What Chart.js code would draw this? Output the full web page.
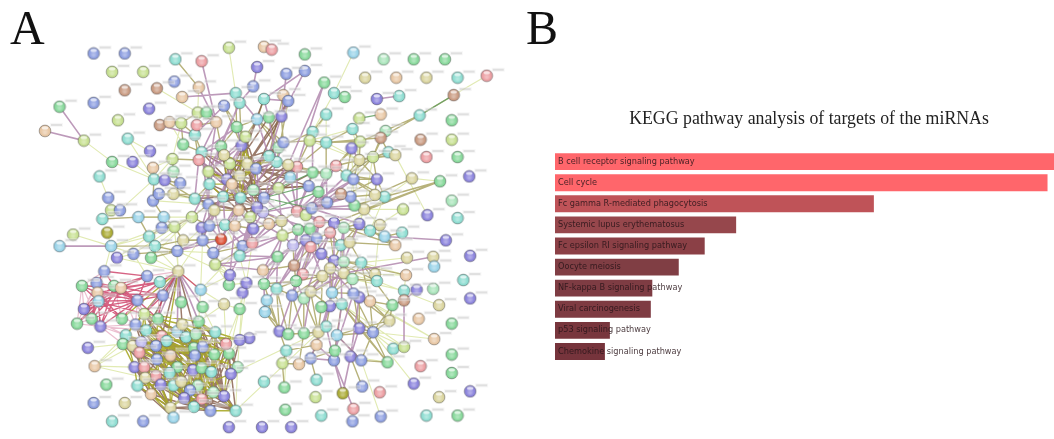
<!DOCTYPE html>
<html>
<head>
<meta charset="utf-8">
<script src="https://cdn.jsdelivr.net/npm/chart.js@4"></script>
<style>
  html, body { margin: 0; padding: 0; background: #fff; overflow: hidden; width: 1054px; height: 439px; }
  #page { position: relative; width: 1054px; height: 439px; overflow: hidden; }
  .panel { position: absolute; font-family: "Liberation Serif", serif; font-size: 48px; line-height: 48px; color: #111; top: 4px; }
  #netBox { position: absolute; left: 0; top: 0; width: 520px; height: 439px; filter: blur(0.5px); }
  #barBox { position: absolute; left: 520px; top: 0; width: 543px; height: 439px; filter: blur(0.4px); }
</style>
</head>
<body>
<div id="page">
  <div id="netBox"><canvas id="network" width="520" height="439"></canvas></div>
  <div id="barBox"><canvas id="kegg" width="543" height="439"></canvas></div>
  <div class="panel" style="left:10px">A</div>
  <div class="panel" style="left:526px">B</div>
</div>
<script>
// Panel B: KEGG pathways, bar length relative to the longest bar
const pathways = ['B cell receptor signaling pathway', 'Cell cycle', 'Fc gamma R-mediated phagocytosis',
  'Systemic lupus erythematosus', 'Fc epsilon RI signaling pathway', 'Oocyte meiosis',
  'NF-kappa B signaling pathway', 'Viral carcinogenesis', 'p53 signaling pathway', 'Chemokine signaling pathway'];
const scores = [100, 98.7, 63.9, 36.3, 30, 24.8, 19.5, 19.2, 11, 10];
const barColors = ['#ff666b', '#ff666b', '#bf5358', '#96474c', '#8b4046', '#803e44', '#7e3c43', '#7e3b42', '#78363d', '#76343c'];
const keggTitle = 'KEGG pathway analysis of targets of the miRNAs';

// Panel A: protein network nodes, ten per row
const nodeX = [
  89,121,108,140,173,200,228,172,154,121,
  89,54,146,39,79,114,124,147,129,108,
  95,150,151,104,107,116,98,135,150,156,
  162,178,171,170,181,157,167,179,193,195,
  196,205,180,197,235,239,223,215,236,253,
  257,264,272,306,356,387,418,450,368,400,
  431,463,493,287,306,326,336,347,380,403,
  459,284,289,264,282,269,328,362,384,424,
  457,257,314,311,328,355,363,354,389,384,
  392,399,362,376,425,457,431,463,475,445,
  416,380,457,407,432,463,388,378,367,357,
  353,343,329,320,310,314,328,338,349,356,
  298,289,277,269,279,284,291,279,264,263,
  298,307,313,220,241,245,200,197,229,207,
  208,226,231,239,247,256,253,222,240,193,
  207,213,238,257,250,171,161,190,282,223,
  172,181,200,208,224,234,253,269,201,220,
  242,252,212,239,214,68,103,54,107,146,
  159,152,113,130,148,175,283,299,311,321,
  336,346,362,383,373,388,406,399,451,476,
  411,438,439,294,307,318,332,343,352,312,
  323,278,336,346,364,332,378,380,410,263,
  295,304,297,324,346,355,469,421,408,438,
  476,444,408,396,373,362,356,344,332,334,
  264,277,293,305,312,267,265,323,423,457,
  393,439,280,289,305,320,328,339,362,376,
  318,287,397,408,457,283,300,312,336,353,
  364,391,337,425,457,264,285,318,317,345,
  365,383,418,444,476,286,323,356,355,384,
  431,463,262,292,228,249,100,144,157,176,
  77,92,93,110,117,94,134,160,79,87,
  72,96,118,179,199,201,223,228,242,246,
  229,239,141,155,132,143,122,119,129,138,
  159,175,180,197,184,194,214,164,153,136,
  168,154,192,201,193,213,228,225,239,83,
  90,131,141,175,191,200,210,237,230,167,
  153,142,102,134,158,171,179,196,188,212,
  148,182,200,223,168,192,209,235,89,121,
  108,140,171
];
const nodeY = [
  48,48,67,67,54,56,42,77,84,86,
  99,103,105,128,138,117,136,149,160,160,
  175,166,178,197,210,210,219,217,200,193,
  179,182,170,157,142,122,119,120,132,122,
  109,109,93,83,89,99,102,119,124,82,
  62,41,44,49,47,54,54,54,73,73,
  73,73,71,69,66,78,89,93,95,92,
  91,91,97,95,113,114,111,115,111,112,
  117,116,129,138,140,126,139,146,128,135,
  150,153,158,155,137,137,155,155,175,180,
  177,178,200,209,215,218,196,194,209,205,
  196,193,202,191,185,171,172,164,174,178,
  165,163,160,154,145,140,176,187,197,212,
  211,215,208,144,143,134,150,158,162,170,
  183,178,183,174,162,167,189,196,197,198,
  204,210,210,207,217,193,217,217,221,153,
  227,241,228,226,225,226,229,224,241,240,
  247,244,254,257,266,235,233,247,247,237,
  228,247,259,255,259,252,236,230,229,222,
  223,228,224,225,231,237,233,246,241,257,
  259,258,268,246,241,239,233,246,243,248,
  255,258,262,263,264,270,276,283,277,272,
  267,276,283,278,275,281,282,292,293,291,
  301,308,303,308,304,300,296,307,309,295,
  286,291,298,301,294,303,315,310,322,327,
  324,343,335,338,337,336,330,339,332,336,
  349,355,353,351,359,368,369,363,365,361,
  365,367,355,371,378,387,393,385,403,399,
  392,398,389,403,397,416,422,415,428,423,
  422,422,434,434,434,342,273,278,284,273,
  288,285,295,288,290,304,303,298,312,322,
  327,330,322,305,292,310,307,287,295,285,
  277,312,317,322,328,334,339,348,350,346,
  340,335,328,325,341,338,336,345,350,357,
  360,364,352,351,360,359,358,348,344,352,
  371,372,372,372,375,373,377,372,379,378,
  381,383,390,391,390,391,387,391,396,398,
  400,404,405,402,414,413,417,417,409,409,
  428,428,424
];
// colour family of each node, one letter per node, ten per row
const nodeTones = [
  'bbyytrybww', 'bgpnyytppg', 'tntbybtcbb', 'pbmygwnytr', 'ygnnttbngb',
  'pnrgcmggon', 'otrbbgtgpt', 'wnbtpgtynt', 'gctyttypmw', 'tooywyrgpg',
  'opmypttoog', 'bwbgbgmrtb', 'rottmbcybv', 'rybgpytryy', 'tpnoobmttt',
  'bonpyocyoo', 'yopbtnpnbe', 'brbtyydcct', 'btpbgbyggr', 'pmpotctnpp',
  'oocvpbrtor', 'pgpmtootnn', 'wrgoomtptm', 'powgnpbtpc', 'gtbmoccgng',
  'onpggotcpb', 'nttygynbbp', 'bggrgtgtyd', 'brpopgtrbb', 'tgppppbbto',
  'gbngncbbpg', 'gpggcgogpp', 'pgygbttgov', 'rcogtmttbr', 'nbgbbggrpp',
  'nprgpgtmpt', 'rogtptombm', 'nprpotbtbo', 'tbc'
].join('').split('');

// links between nodes, pairs of node numbers, one list per STRING evidence colour
const paleLinks = [6,44, 8,40, 14,19, 19,22, 16,22, 33,22, 43,40, 20,23, 25,22, 36,34, 37,33, 33,21, 17,16, 18,22,
  54,66, 66,82, 76,83, 76,84, 85,83, 91,104, 62,70, 103,108, 100,99, 202,201, 193,216, 216,218, 217,231, 218,228,
  224,216, 225,228, 234,251, 259,251, 282,259, 270,289, 269,271, 262,259, 259,263, 276,261, 176,178, 175,178,
  178,183, 178,179, 179,181, 296,178, 350,351, 350,326, 350,327, 350,361, 350,328, 349,327, 183,297, 184,299,
  181,299, 185,299, 299,160, 182,299, 297,183, 179,182, 183,182, 83,92, 84,92, 85,92, 86,110, 87,109, 93,108,
  92,109, 103,193, 108,193, 106,194, 108,192, 157,178, 27,157, 28,150, 29,149, 179,157, 184,157, 183,160, 181,157,
  185,172, 185,320, 320,317, 317,319, 319,318, 318,321, 321,316, 316,314, 314,320, 174,320, 174,317, 172,320,
  173,319, 171,319, 170,314, 168,314, 162,185, 163,299, 164,173, 316,333, 314,333, 315,336, 321,347, 348,346,
  295,348, 295,346, 357,346, 358,357, 373,357, 377,357, 321,346, 318,357, 319,348, 316,347, 314,299,
  200,214, 263,237, 251,235, 377,255, 358,255, 218,214, 103,194, 100,191, 217,224];
const oliveLinks = [4,43, 34,37, 37,38, 36,37, 35,36, 33,32, 32,31, 21,22, 22,30, 30,31, 31,155, 155,147, 30,149,
  33,137, 34,136, 37,40, 40,41, 40,47, 41,47, 38,136, 38,137, 39,47, 39,38, 48,133, 48,135, 45,134, 46,135, 46,134,
  47,133, 44,48, 48,81, 135,81, 135,134, 81,124, 81,125, 75,124, 74,125, 71,123, 72,122, 73,81, 122,123, 123,124,
  121,122, 120,121, 126,121, 127,126, 146,145, 146,144, 145,144, 144,143, 143,138, 138,136, 136,137, 139,137,
  140,139, 142,141, 141,139, 147,141, 148,142, 147,148, 148,146, 146,153, 153,152, 152,151, 151,150, 150,149,
  149,140, 149,155, 150,157, 151,162, 152,164, 153,165, 128,153, 129,153, 128,146, 127,128, 127,146, 129,158,
  158,167, 158,186, 187,186, 187,188, 188,189, 189,190, 190,191, 191,192, 130,131, 131,132, 130,158, 82,83, 83,84,
  83,125, 83,120, 84,120, 84,116, 82,124, 76,82, 85,86, 86,92, 92,93, 93,89, 88,89, 89,84, 86,84, 85,84, 79,89,
  70,79, 79,86, 92,117, 93,118, 115,116, 116,117, 117,118, 118,119, 114,115, 114,113, 113,112, 112,111, 111,110,
  110,109, 109,108, 107,106, 110,107, 109,106, 132,112, 132,113, 119,106, 118,107, 115,120, 116,120, 114,127,
  99,108, 100,107, 99,106, 157,163, 156,160, 157,160, 160,161, 161,168, 161,169, 168,172, 172,170, 170,173, 173,171,
  171,174, 164,165, 163,164, 162,163, 165,166, 166,167, 179,180, 180,160, 181,161, 181,185, 183,185, 184,185,
  185,161, 178,181, 191,194, 194,195, 195,197, 195,196, 197,191, 197,192, 192,207, 192,208, 207,208, 206,207,
  205,206, 204,205, 203,204, 209,210, 210,212, 212,213, 213,214, 214,216, 216,217, 214,224, 213,224, 215,224,
  215,223, 223,221, 221,220, 220,209, 220,219, 222,240, 222,223, 224,225, 225,217, 225,214, 223,225, 243,244,
  242,243, 241,242, 240,241, 245,246, 239,236, 236,235, 235,234, 234,233, 233,232, 233,250, 250,234, 250,258,
  259,258, 259,271, 258,271, 259,250, 259,270, 271,270, 237,238, 237,257, 238,256, 256,255, 255,254, 254,253,
  253,252, 252,261, 261,265, 265,266, 266,267, 267,260, 260,255, 261,260, 272,257, 272,267, 272,268, 257,270,
  257,259, 258,257, 277,267, 280,269, 276,265, 252,246, 261,252, 266,254, 253,246, 27,26, 27,156, 28,29, 29,155,
  28,156, 156,180, 180,179, 27,179, 22,28,
  203,220, 209,221, 204,209, 205,209, 205,210, 206,210, 206,212, 207,212, 208,214, 207,213, 220,222, 221,222, 222,241,
  223,242, 223,243, 224,243, 224,239, 225,239, 215,239, 215,244, 239,238, 239,237, 244,238, 244,255, 243,255, 243,254,
  242,254, 242,253, 241,253, 241,252, 240,252, 245,252, 246,252, 246,253, 247,238, 247,255, 247,260, 247,223, 235,258,
  236,258, 236,259, 237,258, 237,259, 234,259, 233,259, 87,117, 87,118, 86,117, 92,118, 92,119, 93,119, 88,93, 91,93,
  91,92, 90,93, 90,89, 90,91, 101,93, 101,92, 101,118, 101,119, 101,106, 101,107,
  101,131, 99,190, 197,204, 218,213, 217,212, 234,214, 233,214, 250,236, 271,237];
const mauveLinks = [11,14, 13,14, 5,47, 42,44, 43,47, 35,38, 46,38, 45,133, 48,134, 47,136, 47,139, 44,81, 50,49,
  49,45, 63,74, 64,73, 64,74, 65,121, 71,72, 73,72, 74,123, 75,122, 73,75, 81,123, 81,75, 133,136, 134,138, 135,141,
  133,139, 136,140, 137,141, 138,147, 139,148, 140,150, 141,151, 142,152, 143,153, 144,128, 145,129, 122,145,
  123,144, 124,146, 125,128, 120,128, 121,154, 126,153, 127,158, 68,69, 87,92, 82,115, 65,120, 116,112, 117,113,
  118,132, 119,130, 111,131, 110,129, 147,164, 148,165, 150,162, 151,163, 152,166, 153,167, 154,186, 128,187,
  129,188, 130,189, 131,190, 132,192, 162,168, 163,169, 164,170, 165,171, 166,172, 167,173, 169,174, 169,172,
  169,185, 168,185, 166,320, 165,317, 177,178, 198,195, 201,224, 203,219, 204,220, 205,221, 206,222, 209,223,
  210,224, 212,239, 215,238, 207,237, 213,236, 219,240, 220,241, 221,242, 222,243, 223,244, 224,244, 240,246,
  241,245, 242,252, 243,253, 244,254, 239,260, 238,260, 238,255, 238,267, 237,268, 236,272, 235,269, 263,232,
  232,227, 268,279, 268,287, 269,279, 267,268, 260,268, 256,268, 257,270, 258,269, 299,313, 299,315, 299,333,
  299,323, 299,331, 299,322,
  48,136, 45,139, 133,140, 134,141, 134,139, 135,139, 136,150, 137,149, 140,157, 139,150, 147,162, 147,163, 148,164,
  148,169, 150,163, 151,168, 151,169, 152,169, 152,165, 153,170, 154,171, 154,173, 129,170, 158,171, 167,171, 186,173,
  186,171, 119,131, 118,131, 117,131, 116,132, 115,130, 114,130, 113,130, 112,130, 111,132, 110,132, 109,132, 108,132,
  127,130, 126,130, 120,130, 121,130, 203,240, 204,241, 204,242, 209,242, 210,243, 212,244, 212,243, 213,239, 215,236,
  186,203, 186,219, 187,203, 187,220, 188,220, 188,204, 189,209, 189,205, 190,210, 190,212, 191,207, 191,213, 192,213,
  128,173, 203,211, 211,219, 211,240, 211,241, 211,173, 211,174, 211,204, 211,186, 174,219];
const crimsonLinks = [296,301, 296,303, 296,297, 297,303, 297,304, 297,306, 298,304, 298,302, 301,304, 301,306,
  302,306, 302,307, 303,305, 303,306, 304,305, 305,306, 305,298, 300,302, 300,304, 300,305, 308,305, 308,306,
  309,305, 309,306, 310,305, 311,306, 311,305, 308,303, 306,307, 307,303, 312,306, 312,305,
  299,298, 299,307, 299,314, 303,297, 304,306, 302,305, 301,305, 309,304, 310,304, 311,303, 311,304, 308,304, 308,302,
  309,302, 305,312, 305,322, 306,323, 306,312, 307,323, 307,322, 302,312, 298,306];
const pinkLinks = [296,300, 300,308, 308,310, 310,311, 311,326, 311,327, 309,326, 301,309, 300,310, 303,312, 304,322,
  306,322, 297,299, 298,299, 307,299, 306,299, 296,308, 296,302, 301,308, 301,311, 300,311, 303,322, 304,324, 305,324,
  311,324, 311,325, 308,309, 309,310, 309,311, 305,311, 307,313, 298,323, 306,324];
const brownLinks = [322,330, 322,331, 323,331, 323,334, 324,329, 324,337, 325,337, 325,341, 326,338, 327,338, 328,339,
  328,341, 329,337, 329,340, 330,340, 330,342, 331,342, 331,344, 332,344, 333,344, 333,345, 334,345, 335,346, 336,346,
  336,357, 337,353, 338,353, 339,352, 339,359, 340,354, 341,359, 341,361, 342,355, 343,356, 344,356, 345,358, 346,358,
  347,357, 348,358, 351,361, 352,363, 353,364, 354,365, 355,367, 356,369, 358,373, 359,370, 360,370, 361,374, 363,374,
  364,374, 365,375, 366,376, 367,376, 368,377, 369,377, 372,377, 373,377, 374,376, 371,377, 299,325, 299,330, 299,332,
  299,335,
  322,345, 322,353, 323,342, 323,353, 324,341, 324,353, 325,345, 325,356, 326,340, 326,353, 327,342, 327,360, 328,344,
  328,361, 329,342, 329,355, 330,344, 330,356, 330,369, 331,345, 331,354, 331,367, 332,342, 332,356, 332,369, 333,346,
  333,354, 333,373, 334,355, 334,368, 335,356, 335,372, 336,354, 336,373, 336,369, 337,354, 337,367, 338,359, 338,368,
  339,364, 339,365, 340,367, 340,371, 341,368, 341,371, 342,372, 342,369, 343,373, 343,369, 344,372, 344,376, 345,376,
  345,373, 346,377, 346,369, 347,369, 347,358, 351,370, 351,374, 352,374, 352,365, 353,375, 353,376, 354,376, 354,372,
  355,376, 355,377, 356,377, 359,375, 359,376, 360,375, 361,375, 363,382, 364,376, 365,376, 366,372, 367,377, 368,376,
  369,376, 370,375, 371,376, 372,375, 373,376, 374,375,
  72,145, 72,144, 74,143, 75,141, 73,142, 81,142, 81,141, 123,141, 123,142, 122,143, 122,148, 121,148, 124,138, 124,143,
  125,143, 125,145, 135,145, 135,146, 134,146, 134,143, 133,141, 133,142, 133,143, 136,142, 136,143, 137,142, 139,148,
  139,146, 140,148, 138,148, 138,146, 141,146, 142,146, 143,146, 143,147, 144,148, 144,147, 145,148, 145,152, 128,148,
  128,143, 128,142, 127,143, 127,145, 126,145, 121,146, 121,128, 120,146, 114,146, 114,145, 115,128, 115,145, 147,153,
  147,152, 148,153, 148,152, 150,152, 150,148, 151,147, 152,153, 146,129, 146,154, 142,153, 142,154, 141,154, 140,152,
  141,152, 149,147, 149,152];
const yellowLinks = [322,339, 323,338, 324,340, 325,343, 326,351, 327,351, 328,352, 329,353, 330,354, 331,355, 332,356,
  333,343, 333,347, 334,347, 335,348, 336,348, 337,357, 338,354, 339,360, 340,356, 341,365, 342,366, 343,367, 344,369,
  345,372, 346,373, 347,346, 351,363, 352,364, 353,365, 354,368, 355,369, 356,372, 358,368, 359,371, 360,374, 361,370,
  363,370, 364,375, 365,372, 366,375, 367,371, 368,374, 369,373, 370,374, 371,374, 372,376, 373,372, 322,325, 323,325,
  324,326, 325,329, 329,328, 330,337, 331,334, 332,335, 334,342, 335,343, 337,338, 338,341, 341,360, 340,353, 353,354,
  354,355, 355,356, 359,364, 364,365, 365,366, 366,367, 367,368, 351,352, 352,361,
  322,333, 322,344, 323,336, 323,343, 324,334, 324,344, 325,335, 325,340, 326,341, 326,344, 327,340, 327,354, 328,340,
  328,353, 329,344, 329,345, 330,345, 330,343, 331,346, 331,343, 332,336, 332,345, 333,336, 333,342, 334,346, 334,356,
  335,345, 335,355, 336,345, 336,355, 337,344, 337,355, 338,344, 338,365, 339,341, 339,353, 340,364, 340,368, 341,364,
  341,366, 342,354, 342,367, 343,355, 343,372, 344,367, 344,371, 345,369, 345,356, 346,356, 346,367, 347,356, 347,345,
  351,359, 351,364, 352,359, 352,370, 353,366, 353,368, 354,369, 354,371, 355,372, 355,371, 356,373, 356,367, 359,366,
  359,374, 360,365, 360,382, 361,364, 361,374, 363,364, 363,374, 364,366, 364,382, 365,374, 365,371, 366,368, 366,371,
  367,372, 367,369, 368,372, 368,375, 369,372, 369,377, 370,382, 371,375, 371,372, 372,373, 373,377, 374,382, 375,376,
  376,377, 299,337, 299,326, 299,324, 299,312,
  159,141, 159,143, 159,144, 138,145, 143,145, 141,145, 142,145, 144,148, 145,146, 143,148, 141,148, 142,147, 146,147,
  141,147, 139,141, 140,147, 140,142, 139,142, 133,138, 134,144, 134,145, 135,144, 135,143, 123,145, 122,144];
const greenLinks = [128,132, 115,127, 114,128, 113,129, 146,128, 77,78, 70,79];

const tonePalette = { b:'#8a9ce0', p:'#8880dc', t:'#8adcd0', c:'#96d2e8', g:'#84d898', y:'#c6e08e', o:'#dad49c',
  n:'#e8c6a2', r:'#ec9ca0', w:'#c8987e', v:'#bab4ec', m:'#a6e4b8', e:'#dc4c30', d:'#a9a930' };

// little glass ball like the STRING nodes
function ball(color) {
  const c = document.createElement('canvas');
  c.width = 14; c.height = 14;
  const g = c.getContext('2d');
  g.beginPath(); g.arc(7, 7, 5.9, 0, Math.PI * 2);
  g.fillStyle = color; g.fill();
  g.lineWidth = 0.8; g.strokeStyle = 'rgba(80,80,80,0.5)'; g.stroke();
  const shade = g.createRadialGradient(7, 8.5, 1, 7, 7, 5.9);
  shade.addColorStop(0, 'rgba(255,255,255,0.35)');
  shade.addColorStop(0.7, 'rgba(255,255,255,0)');
  shade.addColorStop(1, 'rgba(0,0,0,0.18)');
  g.fillStyle = shade; g.fill();
  g.beginPath(); g.ellipse(7, 3.9, 3.2, 1.6, 0, 0, Math.PI * 2);
  g.fillStyle = 'rgba(255,255,255,0.7)'; g.fill();
  return c;
}
const balls = {};
Object.keys(tonePalette).forEach(k => { balls[k] = ball(tonePalette[k]); });

// the node captions are too small to read in the picture: whitish plate with a grey streak up-right of the node
function captionPlate() {
  const c = document.createElement('canvas');
  c.width = 48; c.height = 26;
  const g = c.getContext('2d');
  g.fillStyle = 'rgba(238,238,238,0.45)';
  g.fillRect(29, 5, 13, 4);
  g.fillStyle = 'rgba(130,130,130,0.38)';
  g.fillRect(30, 6.5, 11, 1);
  return c;
}
const plate = captionPlate();

const nodePoints = nodeX.map((x, i) => ({ x: x, y: nodeY[i] }));

function linkPoints(pairs) {
  const pts = [];
  for (let i = 0; i < pairs.length; i += 2) {
    pts.push(nodePoints[pairs[i]], nodePoints[pairs[i + 1]], { x: NaN, y: NaN });
  }
  return pts;
}
function linkSet(pairs, color, width) {
  return { data: linkPoints(pairs), showLine: true, borderColor: color, borderWidth: width, pointRadius: 0, tension: 0 };
}

new Chart(document.getElementById('network'), {
  type: 'scatter',
  data: {
    datasets: [
      { data: nodePoints, pointStyle: plate, pointRadius: 6, clip: false },
      { data: nodePoints, pointStyle: nodeTones.map(t => balls[t]), pointRadius: 6, clip: false },
      linkSet(greenLinks, 'rgba(96,160,96,0.85)', 1.2),
      linkSet(crimsonLinks, 'rgba(204,60,100,0.8)', 1.4),
      linkSet(mauveLinks, 'rgba(178,136,174,0.85)', 1.6),
      linkSet(yellowLinks, 'rgba(168,168,40,0.9)', 1.4),
      linkSet(brownLinks, 'rgba(130,90,70,0.8)', 1.5),
      linkSet(oliveLinks, 'rgba(170,164,100,0.85)', 1.4),
      linkSet(pinkLinks, 'rgba(232,180,200,0.85)', 1.2),
      linkSet(paleLinks, 'rgba(222,232,170,0.9)', 1.1)
    ]
  },
  options: {
    responsive: false,
    animation: false,
    layout: { padding: 0 },
    plugins: { legend: { display: false }, tooltip: { enabled: false } },
    scales: {
      x: { type: 'linear', display: false, min: 0, max: 520 },
      y: { type: 'linear', display: false, min: 0, max: 439, reverse: true }
    }
  }
});

new Chart(document.getElementById('kegg'), {
  type: 'bar',
  data: {
    labels: pathways,
    datasets: [{ data: scores, backgroundColor: barColors, categoryPercentage: 1, barPercentage: 0.8 }]
  },
  options: {
    indexAxis: 'y',
    responsive: false,
    animation: false,
    layout: { padding: { left: 35, bottom: 77 } },
    plugins: {
      legend: { display: false },
      tooltip: { enabled: false },
      title: {
        display: true,
        text: keggTitle,
        color: '#222',
        font: { family: '"Liberation Serif"', size: 17.8, weight: 'normal' },
        padding: { top: 108.5, bottom: 21.2 }
      }
    },
    scales: {
      x: { display: false, min: 0, max: 101.8 },
      y: {
        afterFit: s => { s.width = 0; },
        grid: { display: false },
        border: { display: false },
        ticks: {
          mirror: true, padding: 3, z: 1, autoSkip: false,
          color: 'rgba(40,20,25,0.85)',
          font: { family: '"DejaVu Sans"', size: 8.2 }
        }
      }
    }
  }
});
</script>
</body>
</html>
